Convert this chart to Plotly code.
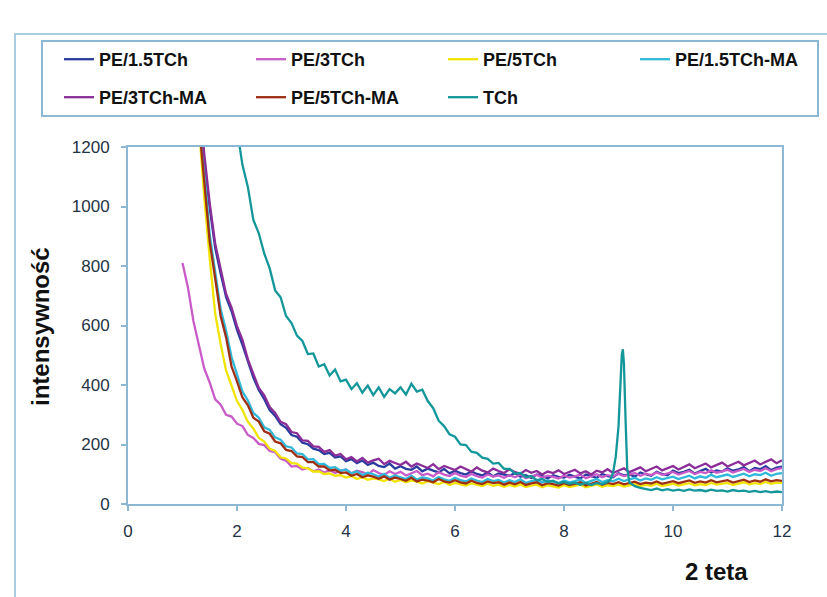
import plotly.graph_objects as go

# ---------------- data ----------------
series_names = ["PE/1.5TCh", "PE/3TCh", "PE/5TCh", "PE/1.5TCh-MA",
                "PE/3TCh-MA", "PE/5TCh-MA", "TCh"]
series_colors = ["#2A3C9E", "#C95BC9", "#F0E400", "#2FB8D8",
                 "#8A2D98", "#9E2E14", "#14979A"]

def grid(start, stop, step=0.1):
    n = int(round((stop - start) / step)) + 1
    return [round(start + i * step, 2) for i in range(n)]

x_cluster = grid(1.3, 12.0)          # sampling positions, 2theta
x_pe3 = grid(1.0, 12.0)

pe15 = [1340, 1150, 995, 860, 775, 695, 648,
        585, 535, 478, 425, 383, 352, 316, 296, 268, 256,
        232, 226, 206, 201, 186, 181, 168, 172, 156, 160,
        144, 151, 137, 146, 131, 139, 128, 124, 136, 119,
        127, 118, 115, 126, 110, 119, 112, 106, 118, 103,
        112, 104, 99, 110, 101, 96, 106, 93, 103, 98,
        95, 104, 92, 97, 88, 99, 94, 86, 97, 91,
        89, 98, 92, 86, 99, 93, 88, 101, 94, 90,
        103, 96, 99, 92, 106, 100, 95, 108, 101, 97,
        112, 104, 108, 115, 102, 111, 118, 106, 113, 109,
        120, 112, 116, 124, 110, 121, 117, 127, 114, 122,
        126]

pe3 = [810, 728, 615, 540, 455, 408, 352, 334, 300, 294,
       270, 262, 232, 222, 202, 198, 178, 174, 152, 146,
       126, 128, 116, 121, 110, 116, 106, 114, 104, 111,
       116, 103, 112, 107, 99, 114, 104, 98, 110, 101,
       108, 96, 104, 111, 97, 102, 93, 107, 99, 94,
       104, 95, 91, 101, 94, 89, 99, 92, 96, 88,
       97, 90, 99, 87, 93, 98, 88, 95, 91, 86,
       96, 89, 93, 99, 87, 94, 100, 90, 97, 93,
       101, 94, 98, 104, 95, 102, 97, 106, 98, 103,
       108, 99, 105, 111, 101, 108, 104, 113, 105, 110,
       115, 106, 112, 118, 108, 115, 111, 120, 110, 117,
       121]

pe5 = [1275, 1030, 825, 640, 538, 448, 398,
       346, 316, 276, 254, 222, 210, 186, 178, 157, 153,
       137, 136, 122, 120, 109, 110, 101, 103, 95, 97,
       89, 94, 84, 90, 81, 86, 83, 77, 85, 75,
       81, 73, 79, 75, 69, 77, 71, 67, 74, 64,
       71, 66, 62, 69, 64, 60, 68, 61, 65, 58,
       64, 59, 66, 57, 62, 65, 56, 63, 59, 55,
       63, 57, 61, 65, 56, 62, 66, 58, 63, 60,
       65, 59, 62, 67, 60, 64, 61, 68, 60, 65,
       68, 62, 66, 70, 63, 67, 64, 71, 65, 69,
       71, 64, 68, 73, 66, 70, 67, 74, 68, 72,
       70]

pe15ma = [1300, 1120, 905, 780, 655, 582, 494,
          436, 378, 348, 306, 290, 258, 249, 224, 216, 194,
          190, 170, 168, 150, 151, 134, 135, 121, 124, 112,
          116, 103, 110, 97, 105, 100, 92, 101, 88, 96,
          90, 84, 95, 82, 89, 86, 79, 91, 83, 78,
          88, 80, 76, 86, 79, 74, 84, 77, 81, 72,
          80, 74, 83, 71, 77, 81, 72, 79, 75, 70,
          79, 73, 77, 82, 71, 78, 84, 74, 80, 76,
          85, 77, 82, 88, 79, 86, 81, 90, 83, 87,
          92, 84, 89, 95, 86, 93, 88, 98, 90, 94,
          99, 91, 96, 102, 93, 100, 97, 105, 95, 101,
          104]

pe3ma = [1370, 1175, 1010, 875, 790, 706, 660,
         598, 552, 486, 437, 390, 365, 326, 306, 276, 268,
         242, 238, 214, 212, 194, 192, 175, 181, 163, 168,
         150, 158, 143, 155, 139, 147, 152, 134, 145, 138,
         131, 142, 126, 136, 129, 121, 134, 117, 128, 122,
         114, 126, 118, 109, 123, 112, 106, 119, 111, 104,
         117, 107, 102, 114, 105, 111, 99, 109, 104, 113,
         101, 108, 115, 103, 110, 99, 112, 106, 117, 104,
         113, 120, 107, 116, 123, 110, 119, 126, 113, 121,
         128, 116, 124, 133, 120, 129, 136, 123, 131, 139,
         126, 135, 142, 130, 138, 146, 133, 141, 150, 137,
         147]

pe5ma = [1285, 1095, 880, 758, 632, 560, 462,
         412, 358, 332, 290, 277, 244, 236, 210, 204, 182,
         178, 160, 158, 141, 141, 126, 126, 113, 115, 104,
         106, 95, 101, 90, 96, 92, 85, 93, 82, 89,
         84, 78, 88, 76, 82, 79, 73, 84, 76, 72,
         80, 73, 69, 78, 71, 67, 76, 70, 73, 65,
         72, 66, 74, 64, 69, 73, 63, 70, 67, 62,
         70, 64, 68, 73, 62, 69, 74, 65, 71, 67,
         73, 66, 70, 75, 67, 72, 69, 76, 68, 73,
         77, 70, 74, 79, 71, 76, 72, 80, 73, 77,
         80, 72, 77, 82, 74, 79, 75, 83, 76, 80,
         78]

x_tch = grid(2.0, 8.8) + [8.85, 8.9, 8.95, 9.0, 9.03, 9.06, 9.08, 9.1, 9.13, 9.16, 9.2] + grid(9.3, 12.0)
tch = [1260, 1140, 1065, 955, 910, 842, 792, 718, 695, 632,
       608, 566, 548, 504, 506, 462, 470, 432, 452, 412,
       418, 386, 406, 374, 398, 366, 392, 360, 386, 372,
       392, 368, 404, 378, 384, 346, 322, 280, 262, 234,
       226, 200, 198, 176, 172, 156, 152, 136, 138, 118,
       118, 102, 104, 90, 94, 80, 84, 74, 78, 70,
       74, 68, 72, 65, 71, 64, 70, 66, 74,
       82, 104, 160, 260, 400, 500, 520, 470, 280, 120, 72,
       60, 54, 50, 47, 52, 46, 50, 45, 48, 44,
       49, 45, 47, 43, 48, 44, 46, 42, 47, 43,
       45, 41, 44, 40, 43, 39, 42, 40]

series_x = [x_cluster, x_pe3, x_cluster, x_cluster, x_cluster, x_cluster, x_tch]
series_y = [pe15, pe3, pe5, pe15ma, pe3ma, pe5ma, tch]
legend_row = ["legend", "legend", "legend", "legend", "legend2", "legend2", "legend2"]

x_ticks = [0, 2, 4, 6, 8, 10, 12]
y_ticks = [0, 200, 400, 600, 800, 1000, 1200]

# ---------------- figure ----------------
FONT = "Liberation Sans, Arial, Helvetica, sans-serif"
AXIS_BLUE = "#8CB8D4"
TICK_TXT = "#1F3344"

fig = go.Figure()
for name, col, xs, ys, lg in zip(series_names, series_colors, series_x, series_y, legend_row):
    fig.add_trace(go.Scatter(x=xs, y=ys, mode="lines", name=name, legend=lg,
                             line=dict(color=col, width=2.3)))

W, H = 827, 597
ml, mr, mt, mb = 128, 45, 147, 93
pw, ph = W - ml - mr, H - mt - mb

def px(xp):
    return (xp - ml) / pw

def py(yp):
    return (H - mb - yp) / ph

legend_common = dict(orientation="h", xanchor="left", yanchor="top",
                     borderwidth=0, bgcolor="rgba(0,0,0,0)",
                     entrywidth=147, entrywidthmode="pixels",
                     font=dict(family=FONT, size=18, color="#111111", weight="bold"),
                     traceorder="normal")

fig.update_layout(
    width=W, height=H,
    margin=dict(l=ml, r=mr, t=mt, b=mb, pad=0),
    paper_bgcolor="white", plot_bgcolor="white",
    font=dict(family=FONT, color="#111111"),
    showlegend=True,
    legend=dict(x=px(59), y=py(41), **legend_common),
    legend2=dict(x=px(59), y=py(79), **legend_common),
    xaxis=dict(range=[0, 12], tickvals=x_ticks, ticktext=[str(v) for v in x_ticks],
               showgrid=False, zeroline=False, showline=True, mirror=True,
               linecolor=AXIS_BLUE, linewidth=2, ticks="outside", ticklen=5,
               tickcolor=AXIS_BLUE, tickwidth=1.5, ticklabelstandoff=6,
               tickfont=dict(family=FONT, size=17, color=TICK_TXT)),
    yaxis=dict(range=[0, 1200], tickvals=y_ticks, ticktext=[str(v) for v in y_ticks],
               showgrid=False, zeroline=False, showline=True, mirror=True,
               linecolor=AXIS_BLUE, linewidth=2, ticks="outside", ticklen=5,
               tickcolor=AXIS_BLUE, tickwidth=1.5, ticklabelstandoff=8,
               tickfont=dict(family=FONT, size=17, color=TICK_TXT)),
    shapes=[dict(type="rect", xref="paper", yref="paper",
                 x0=px(15), x1=px(840), y0=py(34), y1=py(610),
                 line=dict(color="#A9CCE0", width=2), fillcolor="rgba(0,0,0,0)",
                 layer="below"),
            dict(type="rect", xref="paper", yref="paper",
                 x0=px(42), x1=px(818), y0=py(41), y1=py(116),
                 line=dict(color=AXIS_BLUE, width=2), fillcolor="rgba(0,0,0,0)",
                 layer="below")],
    annotations=[
        dict(text="intensywność", xref="paper", yref="paper", x=px(40), y=py(327),
             textangle=-90, showarrow=False, xanchor="center", yanchor="middle",
             font=dict(family=FONT, size=24, color="#111111", weight="bold")),
        dict(text="2 teta", xref="paper", yref="paper", x=px(716), y=py(571),
             showarrow=False, xanchor="center", yanchor="middle",
             font=dict(family=FONT, size=24, color="#111111", weight="bold")),
    ],
)

fig.write_html("out.html")
